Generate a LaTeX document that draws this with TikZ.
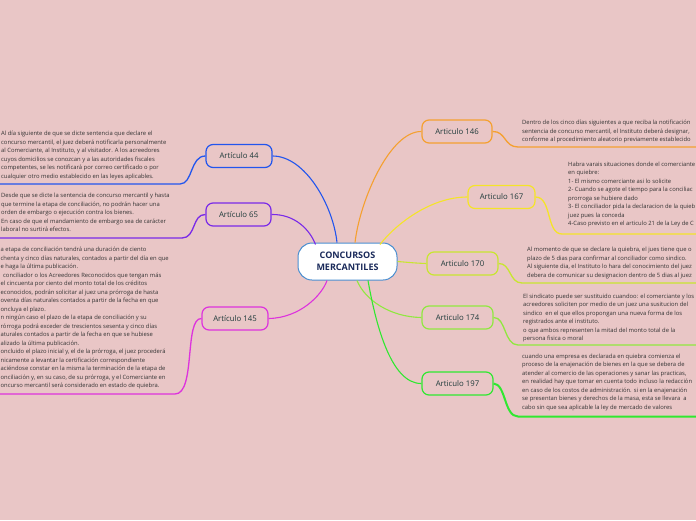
\documentclass[tikz,border=0pt]{standalone}
\usepackage{fontspec}
\setmainfont{Open Sans}
\definecolor{bg}{HTML}{E9C6C6}
\definecolor{cfortyfour}{HTML}{2255EE}
\definecolor{csixtyfive}{HTML}{7A2AE8}
\definecolor{conefortyfive}{HTML}{DD33DD}
\definecolor{conefortysix}{HTML}{F5A030}
\definecolor{conesixtyseven}{HTML}{F5E428}
\definecolor{conesevnty}{HTML}{C8E630}
\definecolor{conesevntyfour}{HTML}{90E840}
\definecolor{coneninetyseven}{HTML}{30E830}
\definecolor{txtgray}{HTML}{333333}
\definecolor{nodetxt}{HTML}{1E3A3A}
\definecolor{centertxt}{HTML}{1A2A5A}
\definecolor{centerborder}{HTML}{4A8ED0}
\tikzset{
  artbox/.style={draw, rounded corners=7pt, line width=1.2pt, minimum width=#1, minimum height=23pt, inner sep=0pt, text=nodetxt, font=\fontsize{7.8}{9}\selectfont},
  artbox/.default=68pt,
  bodytext/.style={anchor=north west, inner sep=0pt, align=left, text=txtgray, font=\fontsize{5.85}{8.5}\selectfont},
  branch/.style={line width=1.1pt},
  underl/.style={line width=1.3pt},
}
\begin{document}
\begin{tikzpicture}[x=1pt,y=-1pt]
\useasboundingbox (0,0) rectangle (696,520);
\fill[bg] (0,0) rectangle (696,520);

% center
\node[draw=centerborder, fill=white, line width=1pt, rounded corners=14pt, minimum width=99pt, minimum height=37pt, inner sep=0pt, align=center, text=centertxt, font=\fontsize{9}{11.5}\selectfont\bfseries] (center) at (347.5,261.5) {CONCURSOS\\MERCANTILES};

% article nodes
\node[artbox=66pt, draw=cfortyfour] (a44) at (239,156) {Artículo 44};
\node[artbox=65pt, draw=csixtyfive] (a65) at (238.5,214.5) {Artículo 65};
\node[artbox=66pt, draw=conefortyfive] (a145) at (235,318.5) {Artículo 145};
\node[artbox=70pt, draw=conefortysix] (a146) at (457,131.5) {Articulo 146};
\node[artbox=67pt, draw=conesixtyseven] (a167) at (501.5,197) {Articulo 167};
\node[artbox=71pt, draw=conesevnty] (a170) at (462.5,263.5) {Articulo 170};
\node[artbox=71pt, draw=conesevntyfour] (a174) at (457.5,317.5) {Articulo 174};
\node[artbox=71pt, draw=coneninetyseven] (a197) at (457.5,383.5) {Articulo 197};

% branches from center
\draw[branch, cfortyfour] (a44.east) .. controls (305,156) and (333,205) .. ([xshift=-10.5pt]center.north);
\draw[branch, csixtyfive] (a65.east) .. controls (295,214) and (310,230) .. ([xshift=-32pt,yshift=-2pt]center.north);
\draw[branch, conefortyfive] (a145.east) .. controls (300,318) and (322,295) .. ([xshift=-20.5pt]center.south);
\draw[branch, conefortysix] (a146.west) .. controls (390,131) and (360,200) .. ([xshift=7.5pt]center.north);
\draw[branch, conesixtyseven] (a167.west) .. controls (430,197) and (395,225) .. ([xshift=32.5pt,yshift=-2pt]center.north);
\draw[branch, conesevnty] (a170.west) .. controls (412,263) and (405,262) .. (center.east);
\draw[branch, conesevntyfour] (a174.west) .. controls (390,317) and (365,300) .. ([xshift=9.5pt]center.south);
\draw[branch, coneninetyseven] (a197.west) .. controls (390,384) and (375,320) .. ([xshift=20.5pt]center.south);

% text blocks
\node[bodytext] (t44) at (1,131) {Al día siguiente de que se dicte sentencia que declare el\\
concurso mercantil, el juez deberá notificarla personalmente\\
al Comerciante, al Instituto, y al visitador. A los acreedores\\
cuyos domicilios se conozcan y a las autoridades fiscales\\
competentes, se les notificará por correo certificado o por\\
cualquier otro medio establecido en las leyes aplicables.};

\node[bodytext] (t65) at (1,193) {Desde que se dicte la sentencia de concurso mercantil y hasta\\
que termine la etapa de conciliación, no podrán hacer una\\
orden de embargo o ejecución contra los bienes.\\
En caso de que el mandamiento de embargo sea de carácter\\
laboral no surtirá efectos.};

\node[bodytext] (t145) at (0.5,247) {a etapa de conciliación tendrá una duración de ciento\\
chenta y cinco días naturales, contados a partir del día en que\\
e haga la última publicación.\\
\hspace{2.5pt}conciliador o los Acreedores Reconocidos que tengan más\\
el cincuenta por ciento del monto total de los créditos\\
econocidos, podrán solicitar al juez una prórroga de hasta\\
oventa días naturales contados a partir de la fecha en que\\
oncluya el plazo.\\
n ningún caso el plazo de la etapa de conciliación y su\\
rórroga podrá exceder de trescientos sesenta y cinco días\\
aturales contados a partir de la fecha en que se hubiese\\
alizado la última publicación.\\
oncluido el plazo inicial y, el de la prórroga, el juez procederá\\
nicamente a levantar la certificación correspondiente\\
aciéndose constar en la misma la terminación de la etapa de\\
onciliación y, en su caso, de su prórroga, y el Comerciante en\\
oncurso mercantil será considerado en estado de quiebra.};

\node[bodytext] (t146) at (522,120) {Dentro de los cinco días siguientes a que reciba la notificación\\
sentencia de concurso mercantil, el Instituto deberá designar,\\
conforme al procedimiento aleatorio previamente establecido};

\node[bodytext] (t167) at (568,161.5) {Habra varais situaciones donde el comerciante\\
en quiebre:\\
1- El mismo comerciante asi lo solicite\\
2- Cuando se agote el tiempo para la conciliac\\
prorroga se hubiere dado\\
3- El conciliador pida la declaracion de la quieb\\
juez pues la conceda\\
4-Caso previsto en el articulo 21 de la Ley de C};

\node[bodytext] (t170) at (527,247) {Al momento de que se declare la quiebra, el jues tiene que o\\
plazo de 5 dias para confirmar al conciliador como sindico.\\
Al siguiente dia, el Instituto lo hara del conocimiento del juez\\
debera de comunicar su designacion dentro de 5 dias al juez};

\node[bodytext] (t174) at (523,293.5) {El sindicato puede ser sustituido cuandoo: el comerciante y los\\
acreedores soliciten por medio de un juez una susitucion del\\
sindico\ \ en el que ellos propongan una nueva forma de los\\
registrados ante el instituto.\\
o que ambos representen la mitad del monto total de la\\
persona fisica o moral};

\node[bodytext] (t197) at (522,353.5) {cuando una empresa es declarada en quiebra comienza el\\
proceso de la enajenación de bienes en la que se debera de\\
atender al comercio de las operaciones y sanar las practicas,\\
en realidad hay que tomar en cuenta todo incluso la redacción\\
en caso de los costos de administración. si en la enajenación\\
se presentan bienes y derechos de la masa, esta se llevara\ \ a\\
cabo sin que sea aplicable la ley de mercado de valores};

% underline end coordinates
\coordinate (e44) at (0,184);
\coordinate (e65) at (0,238);
\coordinate (e145) at (0,394);
\coordinate (e146) at (696,147);
\coordinate (e167) at (696,234);
\coordinate (e170) at (696,283);
\coordinate (e174) at (696,345);
\coordinate (e197) at (696,416.5);

% connectors to text
\draw[underl, cfortyfour] (a44.west) .. controls (190,156) and (193,184) .. (180,184) -- (e44);
\draw[underl, csixtyfive] (a65.west) .. controls (192,214) and (196,238) .. (182,238) -- (e65);
\draw[underl, conefortyfive] (a145.west) .. controls (184,318) and (196,394) .. (175,394) -- (e145);
\draw[underl, conefortysix] (a146.east) .. controls (506,131) and (504,147) .. (518,147) -- (e146);
\draw[underl, conesixtyseven] (a167.east) .. controls (552,197) and (546,234) .. (562,234) -- (e167);
\draw[underl, conesevnty] (a170.east) .. controls (511,263) and (509,283) .. (522,283) -- (e170);
\draw[underl, conesevntyfour] (a174.east) .. controls (506,317) and (504,345) .. (518,345) -- (e174);
\draw[line width=2pt, coneninetyseven] (a197.east) .. controls (506,384) and (504,416.5) .. (518,416.5) -- (e197);
\end{tikzpicture}
\end{document}
